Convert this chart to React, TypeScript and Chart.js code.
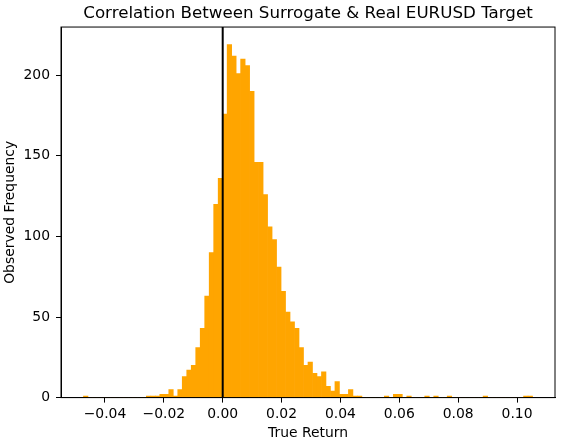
import { useEffect, useRef } from "react";
import { Chart, registerables } from "chart.js";

Chart.register(...registerables);

const TITLE = "Correlation Between Surrogate & Real EURUSD Target";
const X_LABEL = "True Return";
const Y_LABEL = "Observed Frequency";

const BIN_START = -0.04731;
const BIN_WIDTH = 0.0015258;
const COUNTS = [
  1, 0, 0, 0, 0, 0, 0, 0, 0, 0,
  0, 0, 0, 0, 1, 1, 1, 2, 2, 5,
  1, 5, 13, 17, 20, 31, 43, 63, 90, 120,
  136, 176, 219, 212, 201, 210, 206, 190, 146, 146,
  126, 106, 98, 81, 66, 53, 47, 43, 31, 20,
  22, 15, 13, 16, 7, 4, 10, 2, 2, 5,
  1, 1, 0, 0, 0, 0, 0, 1, 0, 2,
  2, 0, 1, 0, 0, 0, 1, 0, 1, 0,
  0, 1, 0, 0, 0, 0, 0, 0, 0, 1,
  0, 0, 0, 0, 0, 0, 0, 0, 1, 1,
];
const X_TICKS = [-0.04, -0.02, 0, 0.02, 0.04, 0.06, 0.08, 0.1];
const Y_TICKS = [0, 50, 100, 150, 200];
const X_MIN = -0.05494;
const X_MAX = 0.1129;
const Y_MAX = 229.95;
const VLINE_X = 0;

const FONT = "DejaVu Sans";

const frame = {
  id: "frame",
  afterDraw(chart: any) {
    const { ctx, chartArea } = chart;
    ctx.save();
    ctx.strokeStyle = "#000";
    ctx.lineWidth = 1;
    ctx.strokeRect(chartArea.left, chartArea.top, chartArea.right - chartArea.left, chartArea.bottom - chartArea.top);
    ctx.restore();
  },
};

export default function App() {
  const ref = useRef<HTMLCanvasElement | null>(null);
  useEffect(() => {
    document.body.style.margin = "0";
    if (!ref.current) return;
    const barData = COUNTS.map((c, i) => ({ x: BIN_START + (i + 0.5) * BIN_WIDTH, y: c }));
    const chart = new Chart(ref.current, {
      type: "bar",
      data: {
        datasets: [
          {
            type: "line",
            data: [
              { x: VLINE_X, y: 0 },
              { x: VLINE_X, y: Y_MAX },
            ],
            borderColor: "#000",
            borderWidth: 2,
            pointRadius: 0,
            order: 0,
          } as any,
          {
            type: "bar",
            data: barData,
            backgroundColor: "#FFA500",
            borderWidth: 0,
            barPercentage: 1,
            categoryPercentage: 1,
            order: 1,
          } as any,
        ],
      },
      plugins: [frame],
      options: {
        responsive: false,
        animation: false,
        devicePixelRatio: 1,
        layout: { padding: { left: 0, right: 17, top: 0, bottom: 0 } },
        plugins: {
          legend: { display: false },
          tooltip: { enabled: false },
          title: {
            display: true,
            fullSize: false,
            text: TITLE,
            color: "#000",
            font: { family: FONT, size: 16.7, weight: "normal", lineHeight: 1.2 },
            padding: { top: 4, bottom: 3 },
          },
        },
        scales: {
          x: {
            type: "linear",
            min: X_MIN,
            max: X_MAX,
            offset: false,
            afterBuildTicks: (s: any) => {
              s.ticks = X_TICKS.map((v) => ({ value: v }));
            },
            afterFit: (s: any) => {
              s.height = 42.4;
            },
            grid: { display: true, drawOnChartArea: false, drawTicks: true, tickLength: 5, color: "#000", offset: false },
            border: { display: true, color: "#000" },
            ticks: {
              color: "#000",
              font: { family: FONT, size: 13.9 },
              padding: 3,
              maxRotation: 0,
              autoSkip: false,
              callback: (v: any) => Number(v).toFixed(2).replace("-", "\u2212"),
            },
            title: {
              display: true,
              text: X_LABEL,
              color: "#000",
              font: { family: FONT, size: 13.9 },
              padding: { top: 0, bottom: -2 },
            },
          },
          y: {
            type: "linear",
            min: 0,
            max: Y_MAX,
            afterBuildTicks: (s: any) => {
              s.ticks = Y_TICKS.map((v) => ({ value: v }));
            },
            afterFit: (s: any) => {
              s.width = 61;
            },
            grid: { display: true, drawOnChartArea: false, drawTicks: true, tickLength: 5, color: "#000" },
            border: { display: true, color: "#000" },
            ticks: {
              color: "#000",
              font: { family: FONT, size: 13.9 },
              padding: 6,
              autoSkip: false,
              callback: (v: any) => String(v),
            },
            title: {
              display: true,
              text: Y_LABEL,
              color: "#000",
              font: { family: FONT, size: 13.9 },
              padding: { top: 2, bottom: 2 },
            },
          },
        },
      } as any,
    });
    return () => chart.destroy();
  }, []);
  return (
    <div style={{ width: 572, height: 440 }}>
      <canvas ref={ref} width={572} height={440} style={{ display: "block" }} />
    </div>
  );
}
